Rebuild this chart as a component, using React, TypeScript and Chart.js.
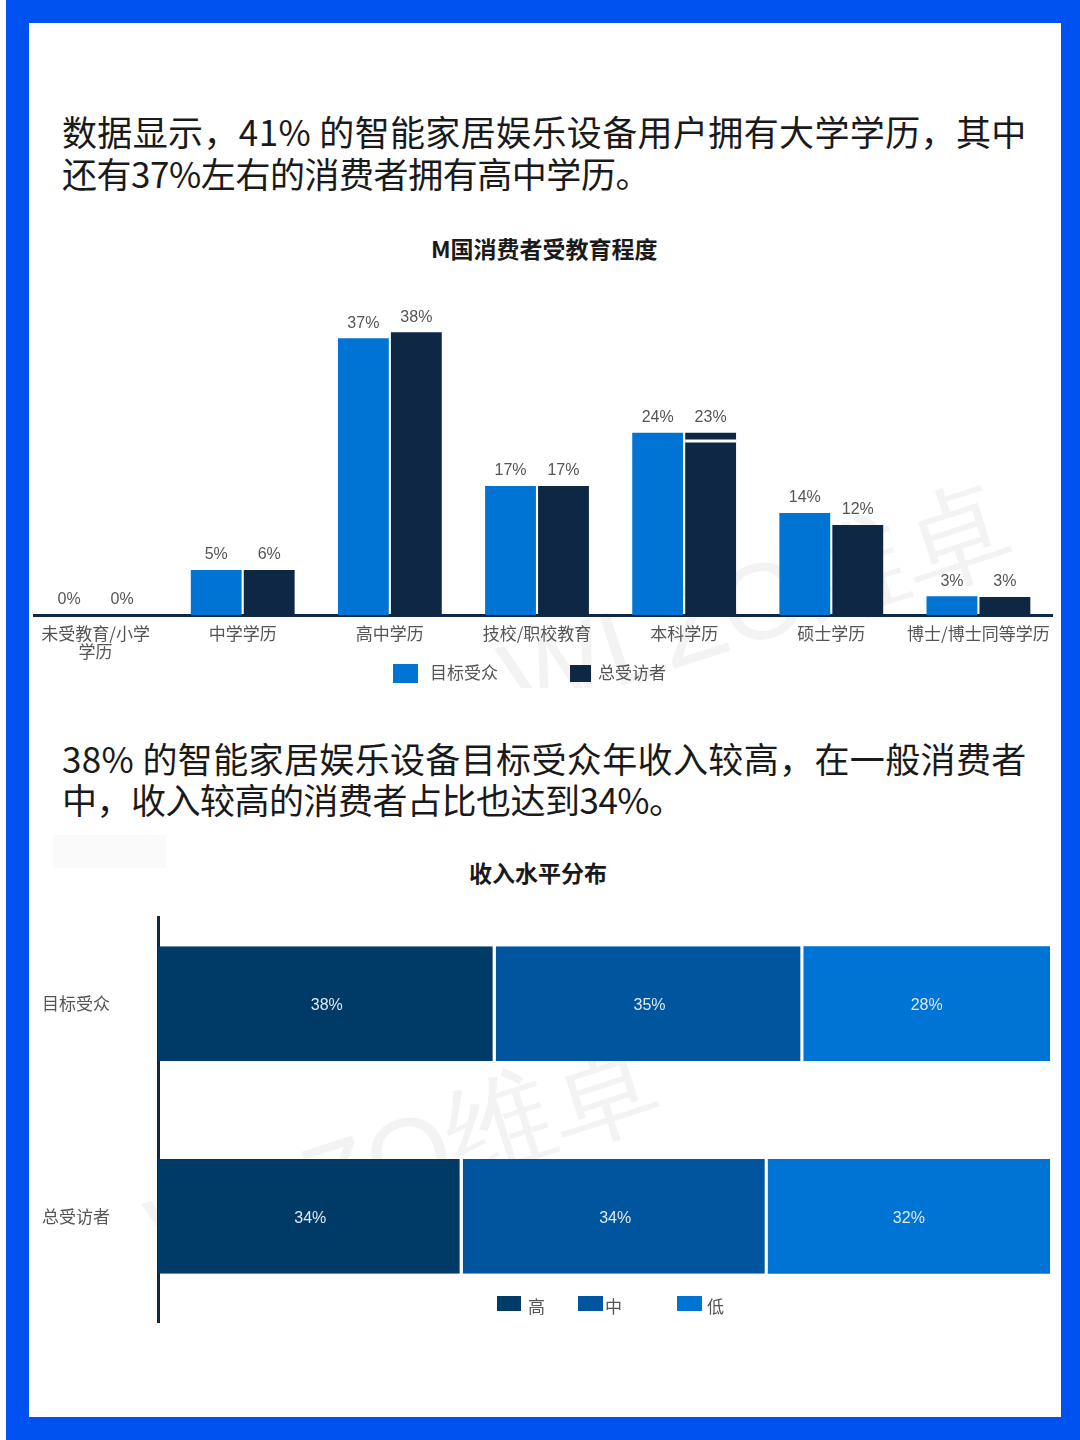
import React, { useEffect, useRef } from 'react';
import { Chart, registerables, type Plugin } from 'chart.js';

Chart.register(...registerables);

// --- education chart ---
const EDU_CATEGORIES = [['未受教育/小学', '学历'], '中学学历', '高中学历', '技校/职校教育', '本科学历', '硕士学历', '博士/博士同等学历'];
const EDU_TARGET = [0, 6, 36.9, 17.2, 24.3, 13.6, 2.5]; // bar heights as drawn
const EDU_TOTAL = [0, 6, 37.7, 17.2, 24.3, 12, 2.4];
const EDU_TARGET_LABELS = ['0%', '5%', '37%', '17%', '24%', '14%', '3%'];
const EDU_TOTAL_LABELS = ['0%', '6%', '38%', '17%', '23%', '12%', '3%'];
const EDU_SPLIT_INDEX = 4; // the 23% bar has a white break across it at its labelled value
const EDU_SPLIT_VALUE = 23;

// --- income chart ---
const INCOME_CATEGORIES = ['目标受众', '总受访者'];
const INCOME_HIGH = [37.85, 34.15];
const INCOME_MID = [34.5, 34.2];
const INCOME_LOW = [27.65, 31.65];

const BLUE = '#0074d4';
const NAVY = '#0d2744';
const INCOME_COLORS = ['#003a66', '#00559f', '#0074d4'];
const CJK = '"Noto Sans CJK SC", sans-serif';

// value labels, drawn from each bar's own position
const valueLabels = (
  getText: (ds: number, i: number) => string,
  color: string,
  inside: boolean,
): Plugin<'bar'> => ({
  id: 'valueLabels',
  afterDatasetsDraw(chart) {
    const { ctx } = chart;
    ctx.save();
    ctx.font = '16px "Liberation Sans", sans-serif';
    ctx.fillStyle = color;
    ctx.textAlign = 'center';
    ctx.textBaseline = 'middle';
    chart.data.datasets.forEach((_, ds) => {
      chart.getDatasetMeta(ds).data.forEach((bar: any, i) => {
        if (inside) {
          const { x, base, y } = bar.getProps(['x', 'base', 'y'], true);
          ctx.fillText(getText(ds, i), (x + base) / 2, y + 2);
        } else {
          ctx.fillText(getText(ds, i), bar.x, bar.y - 15);
        }
      });
    });
    ctx.restore();
  },
});

const barBreak: Plugin<'bar'> = {
  id: 'barBreak',
  afterDatasetsDraw(chart) {
    const bar: any = chart.getDatasetMeta(1).data[EDU_SPLIT_INDEX];
    const y = chart.scales.y.getPixelForValue(EDU_SPLIT_VALUE);
    chart.ctx.fillStyle = '#fff';
    chart.ctx.fillRect(bar.x - bar.width / 2, y - 3, bar.width, 3);
  },
};

const EducationChart: React.FC = () => {
  const canvasRef = useRef<HTMLCanvasElement>(null);

  useEffect(() => {
    if (!canvasRef.current) return;
    const chart = new Chart(canvasRef.current, {
      type: 'bar',
      data: {
        labels: EDU_CATEGORIES as any,
        datasets: [
          { label: '目标受众', data: EDU_TARGET, backgroundColor: BLUE },
          { label: '总受访者', data: EDU_TOTAL, backgroundColor: NAVY },
        ],
      },
      options: {
        animation: false,
        responsive: false,
        layout: { padding: { top: 15, right: 6, left: 0, bottom: 0 } },
        datasets: { bar: { categoryPercentage: 0.72, barPercentage: 0.96 } },
        plugins: { legend: { display: false }, tooltip: { enabled: false } },
        scales: {
          x: {
            afterFit: (axis) => { axis.height = 85; },
            grid: { display: false },
            border: { color: NAVY, width: 3 },
            ticks: {
              autoSkip: false,
              maxRotation: 0,
              padding: 2,
              color: '#555',
              font: { size: 17, family: CJK, lineHeight: 1.05 },
            },
          },
          y: { display: false, min: 0, max: 40 },
        },
      },
      plugins: [barBreak, valueLabels((ds, i) => (ds === 0 ? EDU_TARGET_LABELS : EDU_TOTAL_LABELS)[i], '#555', false)],
    });
    return () => chart.destroy();
  }, []);

  return (
    <div style={{ position: 'absolute', left: 33, top: 300, width: 1025, height: 400, overflow: 'hidden' }}>
      <canvas ref={canvasRef} width={1036} height={400} style={{ position: 'absolute', left: -11, top: 0 }} />
    </div>
  );
};

const IncomeChart: React.FC = () => {
  const canvasRef = useRef<HTMLCanvasElement>(null);

  useEffect(() => {
    if (!canvasRef.current) return;
    const series = [INCOME_HIGH, INCOME_MID, INCOME_LOW];
    const chart = new Chart(canvasRef.current, {
      type: 'bar',
      data: {
        labels: INCOME_CATEGORIES,
        datasets: ['高', '中', '低'].map((label, k) => ({
          label,
          data: series[k],
          backgroundColor: INCOME_COLORS[k],
          borderColor: '#fff',
          borderWidth: { top: 0, bottom: 0, left: 0, right: k < 2 ? 3 : 0 },
          borderSkipped: false,
        })),
      },
      options: {
        indexAxis: 'y',
        animation: false,
        responsive: false,
        datasets: { bar: { categoryPercentage: 0.54, barPercentage: 1 } },
        plugins: { legend: { display: false }, tooltip: { enabled: false } },
        scales: {
          x: { display: false, stacked: true, min: 0, max: 100 },
          y: {
            stacked: true,
            afterFit: (axis) => { axis.width = 128; },
            grid: { display: false },
            border: { color: NAVY, width: 3 },
            ticks: {
              crossAlign: 'center',
              padding: 40,
              color: '#555',
              font: { size: 17, family: CJK },
            },
          },
        },
      },
      plugins: [valueLabels((ds, i) => `${Math.round(series[ds][i])}%`, '#dfe8f0', true)],
    });
    return () => chart.destroy();
  }, []);

  // tick padding also pads the axis ends, so the canvas runs well past the clip box
  return (
    <div style={{ position: 'absolute', left: 30, top: 916, width: 1025, height: 407, overflow: 'hidden' }}>
      <canvas ref={canvasRef} width={1020} height={526} style={{ position: 'absolute', left: 0, top: -69 }} />
    </div>
  );
};

const text = (left: number, top: number, size: number, color: string, weight = 400, spacing = 0): React.CSSProperties => ({
  position: 'absolute',
  left,
  top,
  fontSize: size,
  lineHeight: 1,
  color,
  fontWeight: weight,
  letterSpacing: spacing,
  fontFamily: CJK,
  whiteSpace: 'nowrap',
});

const swatch = (left: number, top: number, w: number, h: number, color: string): React.CSSProperties => ({
  position: 'absolute',
  left,
  top,
  width: w,
  height: h,
  background: color,
});

const mark = (left: number, top: number): React.CSSProperties => ({
  ...text(left, top, 108, '#f3f3f3'),
  transform: 'rotate(-18deg)',
  transformOrigin: 'left bottom',
  fontFamily: '"Liberation Sans", sans-serif',
});

export default function App() {
  return (
    <div style={{ position: 'absolute', left: 0, top: 0, width: 1080, height: 1440, background: '#fff', overflow: 'hidden' }}>
      {/* blue frame */}
      <div style={{ position: 'absolute', left: 6, top: 0, width: 1074, height: 1440, background: '#0052f0' }} />
      <div style={{ position: 'absolute', left: 29, top: 23, width: 1032, height: 1394, background: '#fff' }} />

      {/* watermarks, the first one is cut off above the second paragraph */}
      <div style={{ position: 'absolute', left: 0, top: 0, width: 1080, height: 688, overflow: 'hidden' }}>
        <div style={mark(522, 628)}>WLZO维卓</div>
      </div>
      <div style={mark(169, 1183)}>WLZO维卓</div>
      <div style={swatch(53, 835, 113, 33, '#fafafa')} />

      <div style={text(62, 113, 35, '#1a1a1a', 400, 0.37)}>数据显示，41% 的智能家居娱乐设备用户拥有大学学历，其中</div>
      <div style={text(62, 155, 35, '#1a1a1a', 400, -0.45)}>还有37%左右的消费者拥有高中学历。</div>
      <div style={text(431, 237, 23, '#1a1a1a', 700)}>M国消费者受教育程度</div>

      <EducationChart />

      <div style={swatch(393, 664, 25, 19, BLUE)} />
      <div style={text(430, 663, 17, '#555')}>目标受众</div>
      <div style={swatch(570, 665, 21, 17, NAVY)} />
      <div style={text(598, 663, 17, '#555')}>总受访者</div>

      <div style={text(62, 740, 35, '#1a1a1a', 400, 0.37)}>38% 的智能家居娱乐设备目标受众年收入较高，在一般消费者</div>
      <div style={text(62, 781, 35, '#1a1a1a', 400, -0.5)}>中，收入较高的消费者占比也达到34%。</div>
      <div style={text(469, 861, 23, '#1a1a1a', 700)}>收入水平分布</div>

      <IncomeChart />

      <div style={swatch(497, 1296, 24, 15, INCOME_COLORS[0])} />
      <div style={text(528, 1297, 17, '#555')}>高</div>
      <div style={swatch(578, 1296, 25, 15, INCOME_COLORS[1])} />
      <div style={text(605, 1297, 17, '#555')}>中</div>
      <div style={swatch(677, 1296, 25, 15, INCOME_COLORS[2])} />
      <div style={text(707, 1297, 17, '#555')}>低</div>
    </div>
  );
}
